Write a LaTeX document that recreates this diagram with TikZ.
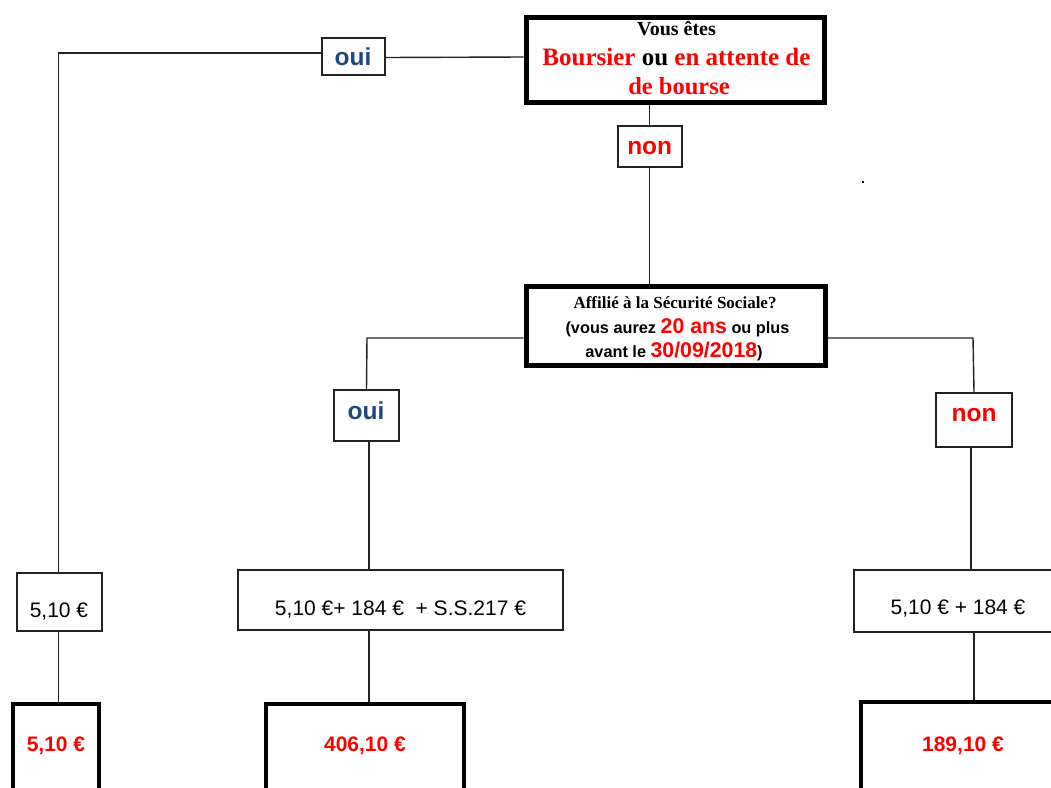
\documentclass[tikz,border=0pt]{standalone}
\usepackage{fontspec}
\setmainfont{Liberation Serif}
\setsansfont{Liberation Sans}
\definecolor{ouiblue}{RGB}{31,73,125}
\definecolor{rouge}{RGB}{255,0,0}
\definecolor{boxgray}{RGB}{34,34,34}
\newcommand\myfs[1]{\fontsize{#1}{#1}\selectfont}
\tikzset{
  bigbox/.style={draw=black, line width=5pt, inner sep=0pt, shape=rectangle},
  resbox/.style={draw=black, line width=4pt, inner sep=0pt, shape=rectangle},
  smallbox/.style={draw=boxgray, line width=2pt, inner sep=0pt, shape=rectangle},
  conn/.style={draw=boxgray, line width=1.4pt},
  txt/.style={inner sep=0pt, anchor=base},
  serifb/.style={txt, font=\rmfamily\bfseries},
  lbl/.style={txt, font=\sffamily\bfseries\myfs{24.5}},
  val/.style={txt, font=\sffamily\myfs{21}},
  res/.style={txt, font=\sffamily\bfseries\myfs{21}, text=rouge},
}
\begin{document}
\begin{tikzpicture}[x=1pt,y=-1pt]
\useasboundingbox (0,0) rectangle (1051,787);
\clip (0,0) rectangle (1051,787);
\fill[white] (0,0) rectangle (1051,787);

% boxes
\node[bigbox, minimum width=298pt, minimum height=85pt] (top) at (675,60) {};
\node[smallbox, minimum width=63pt, minimum height=37pt] (topoui) at (353.5,56.5) {};
\node[smallbox, minimum width=64pt, minimum height=41pt] (topnon) at (649.5,146.5) {};
\node[bigbox, minimum width=299.5pt, minimum height=79pt] (mid) at (675.75,326) {};
\node[smallbox, minimum width=65pt, minimum height=51pt] (midoui) at (366.5,415.5) {};
\node[smallbox, minimum width=76pt, minimum height=54pt] (midnon) at (974,420) {};
\node[smallbox, minimum width=85pt, minimum height=58pt] (leftval) at (59.2,602) {};
\node[smallbox, minimum width=325pt, minimum height=60pt] (midval) at (400.5,600) {};
\node[smallbox, minimum width=206pt, minimum height=62pt] (rightval) at (957,601) {};
\node[resbox, minimum width=86pt, minimum height=96pt] (leftres) at (56,752) {};
\node[resbox, minimum width=198.5pt, minimum height=96pt] (midres) at (364.75,752) {};
\node[resbox, minimum width=203.5pt, minimum height=100pt] (rightres) at (963,752) {};

% texts
\node[serifb, font=\rmfamily\bfseries\myfs{20}] (t1) at (676.5,35) {Vous êtes};
\node[serifb, font=\rmfamily\bfseries\myfs{25}] (t2) at (676.5,65) {\textcolor{rouge}{Boursier} ou \textcolor{rouge}{en attente de}};
\node[serifb, font=\rmfamily\bfseries\myfs{24.5}, text=rouge] (t3) at (679,94) {de bourse};
\node[serifb, font=\rmfamily\bfseries\myfs{17}] (t4) at (675,308) {Affilié à la Sécurité Sociale?};
\node[txt, font=\sffamily\bfseries\myfs{16.3}] (t5) at (677.5,333) {(vous aurez \textcolor{rouge}{\myfs{21.3}20 ans} ou plus};
\node[txt, font=\sffamily\bfseries\myfs{16.3}] (t6) at (674,357) {avant le \textcolor{rouge}{\myfs{21.3}30/09/2018})};

\node[lbl, text=ouiblue] (l1) at (353,65) {oui};
\node[lbl, text=rouge] (l2) at (649.7,154) {non};
\node[lbl, text=ouiblue] (l3) at (366,419) {oui};
\node[lbl, text=rouge] (l4) at (974,421.5) {non};

\node[val] (v1) at (59,617) {5,10 €};
\node[val] (v2) at (400.5,615) {5,10 €+ 184 €\ \ + S.S.217 €};
\node[val] (v3) at (958,614) {5,10 € + 184 €};

\node[res] (r1) at (56,751) {5,10 €};
\node[res] (r2) at (365,751) {406,10 €};
\node[res] (r3) at (963,751) {189,10 €};

% connectors
\coordinate (c1) at (58.5,53);
\coordinate (c2) at (367,338);
\coordinate (c3) at (369,0);
\coordinate (c4) at (973,338);
\coordinate (c5) at (971,0);
\coordinate (c6) at (974,0);

\draw[conn] (top.west |- 0,57) -- (topoui.east |- 0,57.5);
\draw[conn] (topoui.west |- c1) -- (c1) -- (c1 |- leftval.north);
\draw[conn] (c1 |- leftval.south) -- (c1 |- leftres.north);
\draw[conn] (topnon.north |- top.south) -- (topnon.north);
\draw[conn] (topnon.south) -- (topnon.south |- mid.north);
\draw[conn] (mid.west |- c2) -- (c2) -- (midoui.north);
\draw[conn] (c3 |- midoui.south) -- (c3 |- midval.north);
\draw[conn] (c3 |- midval.south) -- (c3 |- midres.north);
\draw[conn] (mid.east |- c4) -- (c4) -- (midnon.north);
\draw[conn] (c5 |- midnon.south) -- (c5 |- rightval.north);
\draw[conn] (c6 |- rightval.south) -- (c6 |- rightres.north);

% tiny mark
\fill[black] (862,181) rectangle (864,183);
\end{tikzpicture}
\end{document}
